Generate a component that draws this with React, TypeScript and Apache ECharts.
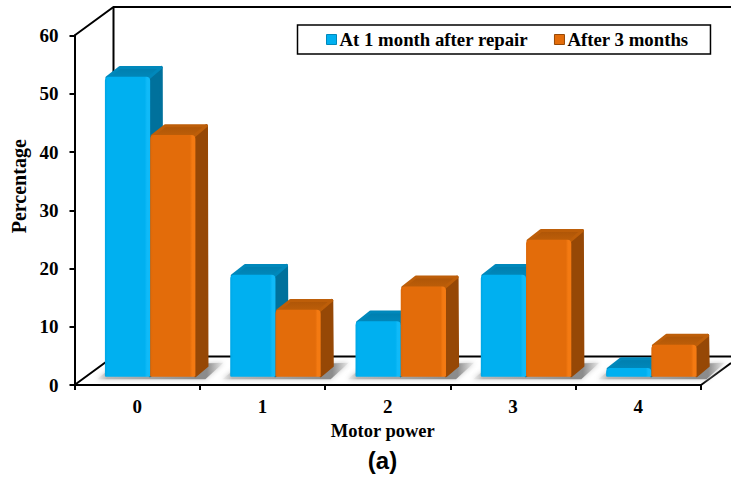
import React, { useEffect, useRef } from "react";
import * as echarts from "echarts";

const categories = ["0", "1", "2", "3", "4"];
const oneMonth = [52, 18, 10, 18, 2];
const threeMonths = [42, 12, 16, 24, 6];
const seriesNames = ["At 1 month after repair", "After 3 months"];
const yTicks = { min: 0, max: 60, interval: 10 };

const SERIF = '"Liberation Serif", "Times New Roman", serif';

const BLUE = { front: "#00b0f0", left: "#00a6e4", edge: "#10baf8", top: "#0088bb", topBack: "#007eae", side: "#00719c" };
const ORANGE = { front: "#e36c0a", left: "#dc6809", edge: "#f47a12", top: "#bd5e09", topBack: "#ad5507", side: "#964806" };

const GRID = { left: 74.5, top: 35.5, width: 626.5, height: 349.5 };
const WALL_DX = 39;
const WALL_DY = 28.5;
const BAR_WIDTH_RATIO = 0.361;
const BAR_SHIFT_X = 13;
const BASE_LIFT = 8.3;
const TOP_LIFT = 5.4;
const DEPTH_X = 12.6;
const DEPTH_Y = 10.8;

function barRenderer(colors: typeof BLUE, side: number) {
  return (_params: any, api: any) => {
    const p = api.coord([api.value(0), api.value(1)]);
    const zero = api.coord([api.value(0), 0]);
    const w = api.size([1, 0])[0] * BAR_WIDTH_RATIO;
    const cx = p[0] + BAR_SHIFT_X;
    const x1 = side < 0 ? cx - w : cx;
    const x2 = x1 + w;
    const base = zero[1] - BASE_LIFT;
    const top = p[1] - TOP_LIFT;
    const frontFill = new echarts.graphic.LinearGradient(0, 0, 1, 0, [
      { offset: 0, color: colors.left },
      { offset: 0.06, color: colors.front },
      { offset: 0.88, color: colors.front },
      { offset: 0.93, color: colors.edge },
      { offset: 1, color: colors.edge },
    ]);
    const topFill = new echarts.graphic.LinearGradient(0, 0, 0, 1, [
      { offset: 0, color: colors.topBack },
      { offset: 1, color: colors.top },
    ]);
    return {
      type: "group",
      children: [
        {
          type: "polygon",
          shape: {
            points: [
              [x2 - 1, top + 1],
              [x2 + DEPTH_X - 1.5, top - DEPTH_Y + 1.5],
              [x2 + DEPTH_X - 1, base - DEPTH_Y],
              [x2, base - 1],
            ],
          },
          style: { fill: colors.side, stroke: colors.side, lineWidth: 3, lineJoin: "round" },
        },
        {
          type: "polygon",
          shape: {
            points: [
              [x1 + 2, top + 1],
              [x1 + DEPTH_X + 2.5, top - DEPTH_Y + 1.5],
              [x2 + DEPTH_X - 1.5, top - DEPTH_Y + 1.5],
              [x2 - 1, top + 1],
            ],
          },
          style: { fill: topFill, stroke: colors.top, lineWidth: 3, lineJoin: "round" },
        },
        {
          type: "rect",
          shape: { x: x1, y: top, width: w, height: base - top, r: [4, 4, 1, 1] },
          style: { fill: frontFill },
        },
      ],
    };
  };
}

function shadowRenderer(_params: any, api: any) {
  const zero = api.coord([api.value(0), 0]);
  const w = api.size([1, 0])[0] * BAR_WIDTH_RATIO;
  const cx = zero[0] + BAR_SHIFT_X;
  const base = zero[1] - BASE_LIFT;
  const fill = new echarts.graphic.LinearGradient(0, 0, 1, 0, [
    { offset: 0, color: "#f4f4f4" },
    { offset: 0.08, color: "#b8b8b8" },
    { offset: 0.8, color: "#8c8c8c" },
    { offset: 0.87, color: "#8c8c8c" },
    { offset: 1, color: "#ececec" },
  ]);
  return {
    type: "polygon",
    shape: {
      points: [
        [cx - w - 8, base + 2.5],
        [cx - w + 8, base - 10],
        [cx + w + 28, base - 14],
        [cx + w + 10, base + 2.5],
      ],
    },
    style: { fill, shadowBlur: 5, shadowColor: "#c8c8c8" },
  };
}

export default function App() {
  const ref = useRef<HTMLDivElement>(null);

  useEffect(() => {
    const chart = echarts.init(ref.current!, undefined, { renderer: "svg" });
    const right = GRID.left + GRID.width;
    const bottom = GRID.top + GRID.height;
    const wallX = GRID.left + WALL_DX;
    const wallTop = GRID.top - WALL_DY;
    const wallBottom = bottom - WALL_DY;
    const lineStyle = { stroke: "#000", lineWidth: 2, fill: "none" };
    chart.setOption({
      animation: false,
      backgroundColor: "#fff",
      grid: { ...GRID, containLabel: false, outerBoundsMode: "none" },
      legend: {
        left: 297.5,
        top: 25,
        orient: "horizontal",
        data: [
          { name: seriesNames[0], itemStyle: { borderColor: BLUE.top, borderWidth: 1 } },
          { name: seriesNames[1], itemStyle: { borderColor: ORANGE.side, borderWidth: 1 } },
        ],
        icon: "rect",
        itemWidth: 10,
        itemHeight: 10,
        itemGap: 26,
        padding: [5, 22, 5, 28.5],
        borderColor: "#000",
        borderWidth: 1.5,
        selectedMode: false,
        textStyle: { fontFamily: SERIF, fontWeight: "bold", fontSize: 18.8, color: "#000", padding: [0, 0, 0, -2] },
      },
      xAxis: {
        type: "category",
        data: categories,
        boundaryGap: true,
        name: "Motor power",
        nameLocation: "middle",
        nameGap: 36,
        nameTextStyle: { fontFamily: SERIF, fontWeight: "bold", fontSize: 18.5, color: "#000", padding: [0, 10, 0, 0] },
        axisLine: { lineStyle: { color: "#000", width: 2 } },
        axisTick: { show: true, alignWithLabel: false, length: 5, lineStyle: { color: "#000", width: 2 } },
        axisLabel: { margin: 12, fontFamily: SERIF, fontWeight: "bold", fontSize: 19, color: "#000" },
      },
      yAxis: {
        type: "value",
        ...yTicks,
        name: "Percentage",
        nameLocation: "middle",
        nameGap: 44,
        nameRotate: 90,
        nameTextStyle: { fontFamily: SERIF, fontWeight: "bold", fontSize: 20, color: "#000", padding: [0, 0, 0, 48] },
        splitLine: { show: false },
        axisLine: { show: true, lineStyle: { color: "#000", width: 2 } },
        axisTick: { show: true, length: 5, lineStyle: { color: "#000", width: 2 } },
        axisLabel: { margin: 16, fontFamily: SERIF, fontWeight: "bold", fontSize: 19, color: "#000" },
      },
      graphic: [
        {
          type: "polyline",
          z: 1,
          silent: true,
          shape: { points: [[GRID.left, GRID.top], [wallX, wallTop], [731, wallTop]] },
          style: lineStyle,
        },
        {
          type: "line",
          z: 1,
          silent: true,
          shape: { x1: wallX, y1: wallTop, x2: wallX, y2: wallBottom },
          style: lineStyle,
        },
        {
          type: "polyline",
          z: 1,
          silent: true,
          shape: { points: [[GRID.left, bottom], [wallX, wallBottom], [731, wallBottom]] },
          style: lineStyle,
        },
        {
          type: "line",
          z: 1,
          silent: true,
          shape: { x1: right, y1: bottom, x2: 731, y2: bottom - (30 * WALL_DY) / WALL_DX },
          style: lineStyle,
        },
        {
          type: "text",
          silent: true,
          x: 382.5,
          y: 460,
          style: {
            text: "(a)",
            fontFamily: '"Liberation Sans", Arial, sans-serif',
            fontWeight: "bold",
            fontSize: 24,
            fill: "#000",
            textAlign: "center",
            textVerticalAlign: "middle",
          },
        },
      ],
      series: [
        {
          type: "custom",
          name: "floor shadow",
          z: 2,
          silent: true,
          clip: false,
          renderItem: shadowRenderer,
          encode: { x: 0, y: 1 },
          data: categories.map((_, i) => [i, 0]),
        },
        {
          type: "custom",
          name: seriesNames[0],
          z: 3,
          clip: false,
          itemStyle: { color: BLUE.front },
          renderItem: barRenderer(BLUE, -1),
          encode: { x: 0, y: 1 },
          data: oneMonth.map((v, i) => [i, v]),
        },
        {
          type: "custom",
          name: seriesNames[1],
          z: 4,
          clip: false,
          itemStyle: { color: ORANGE.front },
          renderItem: barRenderer(ORANGE, 1),
          encode: { x: 0, y: 1 },
          data: threeMonths.map((v, i) => [i, v]),
        },
      ],
    });
    return () => chart.dispose();
  }, []);

  return <div ref={ref} style={{ position: "fixed", left: 0, top: 0, width: 731, height: 477 }} />;
}
